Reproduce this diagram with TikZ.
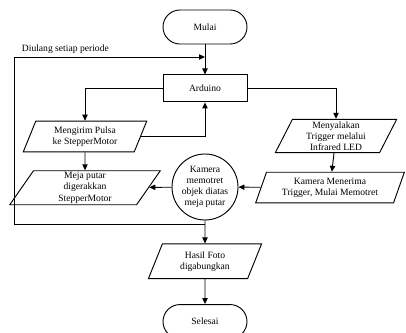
\documentclass[tikz,border=0pt]{standalone}
\usepackage{fontspec}
\setmainfont{Liberation Serif}
\usetikzlibrary{positioning, arrows.meta, shapes.geometric}
\tikzset{
  term/.style={rectangle, draw, rounded corners=12.75pt, minimum width=63pt, minimum height=25.5pt, line width=0.7pt},
  proc/.style={rectangle, draw, minimum width=63pt, minimum height=20.25pt, line width=0.7pt},
  io/.style={trapezium, trapezium left angle=68, trapezium right angle=112, trapezium stretches=true, draw, line width=0.7pt, inner xsep=1pt, inner ysep=0.5pt},
  act/.style={circle, draw, minimum size=49.5pt, inner sep=0pt, line width=0.7pt}
}
\begin{document}
\begin{tikzpicture}[
  x=0.75pt, y=-0.75pt,
  >={Triangle[length=4.5pt, width=4pt]},
  every node/.style={align=center, font=\fontsize{7.2}{8.3}\selectfont},
  line width=0.7pt
]
  \useasboundingbox (0,0) rectangle (406,332);

  % Main column: start and controller
  \node[term] (start) at (205,27) {Mulai};
  \node[proc, below=22.5pt of start] (ard) {Arduino};

  % Left branch: motor
  \node[io, minimum width=93pt, minimum height=23pt] (pulsa) at (85,136.5) {Mengirim Pulsa\\ke StepperMotor};
  \node[io, minimum width=113pt, minimum height=25.5pt, below=13.5pt of pulsa] (meja) {Meja putar\\digerakkan\\StepperMotor};

  % Right branch: camera trigger
  \node[io, minimum width=91.5pt, minimum height=25pt] (nyala) at (336,136) {Menyalakan\\Trigger melalui\\Infrared LED};
  \node[io, minimum width=112pt, minimum height=23pt, below=14pt of nyala, xshift=-4.5pt] (terima) {Kamera Menerima\\Trigger, Mulai Memotret};

  % Middle: camera shot, result and end
  \node[act] (kamera) at (205,187) {Kamera\\memotret\\objek diatas\\meja putar};
  \node[io, minimum width=85pt, minimum height=26pt, below=17.25pt of kamera] (hasil) {Hasil Foto\\digabungkan};
  \node[term, below=18.75pt of hasil] (selesai) {Selesai};

  % Loop points
  \coordinate (loopout) at (205,224);
  \coordinate (loopin) at (205,57);
  \node[anchor=west] (looplbl) at (17,49.5) {Diulang setiap periode};

  % Edges
  \draw[->] (start) -- (ard);
  \draw[->] (ard.west) -| (pulsa.north);
  \draw[->] (ard.east) -| (nyala.north);
  \draw[->] (pulsa) -- (meja);
  \draw[->] (pulsa.east) -| (ard.south);
  \draw[->] (nyala) -- (terima);
  \draw[->] (terima) -- (kamera);
  \draw[->] (kamera) -- (meja);
  \draw[->] (kamera) -- (hasil);
  \draw[->] (hasil) -- (selesai);
  \draw[->] (loopout) -- ++(-191,0) |- (loopin);

\end{tikzpicture}
\end{document}
